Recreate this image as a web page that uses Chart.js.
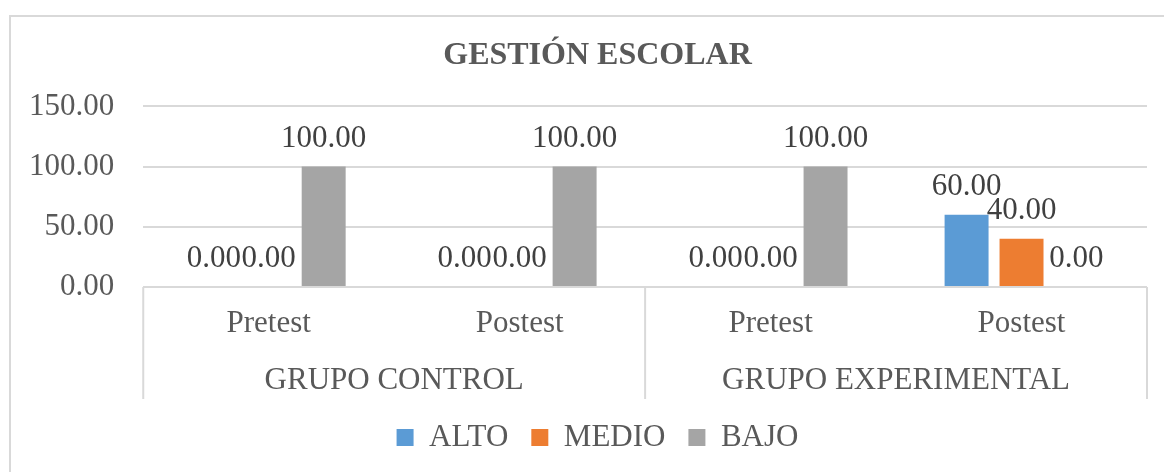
<!DOCTYPE html>
<html>
<head>
<meta charset="utf-8">
<script src="https://cdn.jsdelivr.net/npm/chart.js@4"></script>
<style>
  body { margin: 0; background: #fff; overflow: hidden; }
  #wrap { position: relative; width: 1164px; height: 472px; overflow: hidden; }
  #frame { position: absolute; left: 9px; top: 15px; width: 1200px; height: 500px; border: 2px solid #d9d9d9; }
  canvas { position: absolute; left: 0; top: 0; }
</style>
</head>
<body>
<div id="wrap">
  <div id="frame"></div>
  <!-- canvas runs past the window edge, as the excel frame does -->
  <canvas id="chart" width="1212" height="472"></canvas>
</div>
<script>
// --- data ---
const categories = ["Pretest", "Postest", "Pretest", "Postest"];
const groups = ["GRUPO CONTROL", "GRUPO EXPERIMENTAL"];
const alto = [0, 0, 0, 60];
const medio = [0, 0, 0, 40];
const bajo = [100, 100, 100, 0];
const yTicks = [0, 50, 100, 150];

const textColor = "#595959";
const lineColor = "#d9d9d9";
Chart.defaults.font.family = '"Liberation Serif", "Times New Roman", serif';
Chart.defaults.font.size = 31;
Chart.defaults.color = textColor;

// value labels above every bar (excel "outside end")
const barLabels = {
  id: "barLabels",
  afterDatasetsDraw(chart) {
    const ctx = chart.ctx;
    ctx.save();
    ctx.font = '31px "Liberation Serif", "Times New Roman", serif';
    ctx.fillStyle = "#404040";
    ctx.textAlign = "center";
    ctx.textBaseline = "middle";
    chart.data.datasets.forEach((ds, i) => {
      chart.getDatasetMeta(i).data.forEach((bar, j) => {
        ctx.fillText(ds.data[j].toFixed(2), bar.x, bar.y - 28);
      });
    });
    ctx.restore();
  }
};

// group separators of the two-level category axis
const groupLines = {
  id: "groupLines",
  afterDraw(chart) {
    const x = chart.scales.x, x2 = chart.scales.x2;
    const mid = (x.getPixelForValue(1) + x.getPixelForValue(2)) / 2;
    const ctx = chart.ctx;
    ctx.save();
    ctx.strokeStyle = lineColor;
    ctx.lineWidth = 2;
    [x.left, mid, x.right].forEach(px => {
      ctx.beginPath();
      ctx.moveTo(px, chart.chartArea.bottom);
      ctx.lineTo(px, x2.bottom);
      ctx.stroke();
    });
    ctx.restore();
  }
};

new Chart(document.getElementById("chart"), {
  type: "bar",
  data: {
    labels: categories,
    datasets: [
      { label: "ALTO", data: alto, backgroundColor: "#5b9bd5" },
      { label: "MEDIO", data: medio, backgroundColor: "#ed7d31" },
      { label: "BAJO", data: bajo, backgroundColor: "#a5a5a5" }
    ]
  },
  options: {
    responsive: false,
    animation: false,
    categoryPercentage: 0.657,
    barPercentage: 0.8,
    layout: { padding: { top: 15, left: 0, right: 17, bottom: 9 } },
    plugins: {
      title: {
        display: true,
        text: "GESTIÓN ESCOLAR",
        color: textColor,
        font: { size: 32, weight: "bold" },
        padding: { top: 22, bottom: 31 }
      },
      legend: {
        position: "bottom",
        labels: { boxWidth: 17, boxHeight: 17, padding: 23, color: textColor }
      },
      tooltip: { enabled: false }
    },
    scales: {
      y: {
        min: 0,
        max: 150,
        afterBuildTicks: s => { s.ticks = yTicks.map(v => ({ value: v })); },
        ticks: { padding: 29, callback: v => Number(v).toFixed(2) },
        grid: { color: lineColor, lineWidth: 2, drawTicks: false },
        border: { display: false }
      },
      // empty right-hand spacer so title and legend sit where excel put them
      y2: {
        position: "right",
        grid: { display: false, drawTicks: false },
        ticks: { display: false },
        border: { display: false },
        afterFit: s => { s.width = 48; }
      },
      x: {
        grid: { display: false, drawTicks: false },
        border: { display: false },
        ticks: { padding: 18, autoSkip: false, maxRotation: 0 },
        afterFit: s => { s.height = 55; }
      },
      x2: {
        type: "category",
        position: "bottom",
        labels: groups,
        offset: true,
        grid: { display: false, drawTicks: false },
        border: { display: false },
        ticks: { padding: 20, autoSkip: false, maxRotation: 0 },
        afterFit: s => { s.height = 57; }
      }
    }
  },
  plugins: [barLabels, groupLines]
});
</script>
</body>
</html>
